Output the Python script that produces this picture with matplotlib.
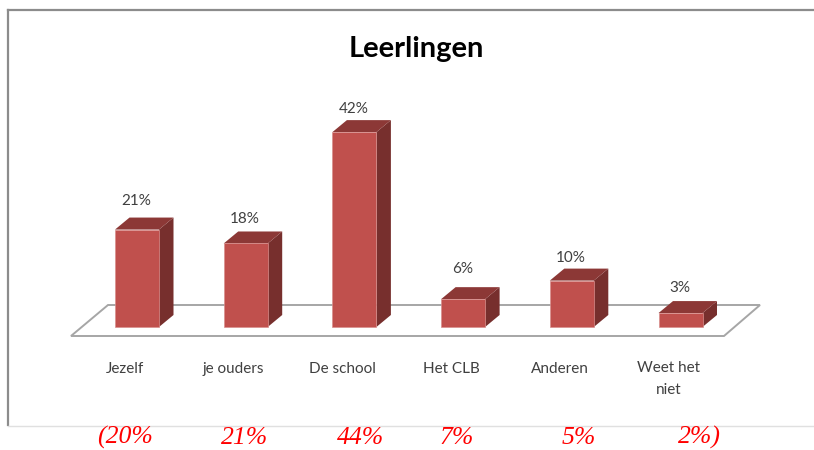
import matplotlib
matplotlib.use("Agg")
import matplotlib.pyplot as plt
from matplotlib.patches import Polygon
from matplotlib.lines import Line2D

categories = ["Jezelf", "je ouders", "De school", "Het CLB", "Anderen", "Weet het\nniet"]
values = [21, 18, 42, 6, 10, 3]
value_labels = ["21%", "18%", "42%", "6%", "10%", "3%"]
red_labels = ["(20%", "21%", "44%", "7%", "5%", "2%)"]

# layout, in pixels of the 814x450 picture
W, H = 814, 450
red_x = [125, 245, 361, 457, 579, 699]
label_gap = [29, 24, 23, 30, 23, 25]
cat_gap = [42, 42, 42, 42, 42, 52]

front = "#C0504D"
top = "#8C3836"
side = "#772F2D"
edge = "#D98F8D"
grey = "#A6A6A6"
text_col = "#404040"

fig = plt.figure(figsize=(W / 100, H / 100), dpi=100, facecolor="white")
ax = fig.add_axes([0, 0, 1, 1])
ax.axis("off")

# one category = 108.7 px, one percent = 4.64 px, first bar at px 137, zero at px 327
ax.set_xlim((0 - 137) / 108.7, (W - 137) / 108.7)
ax.set_ylim((327 - H) / 4.64, 327 / 4.64)

bar_w = 44 / 108.7
dx = 14.5 / 108.7
dy = 12 / 4.64

# floor
floor_y0 = -9 / 4.64
floor_y1 = 22 / 4.64
ax.add_patch(Polygon([[(71 - 137) / 108.7, floor_y0], [(724 - 137) / 108.7, floor_y0],
                      [(760 - 137) / 108.7, floor_y1], [(108 - 137) / 108.7, floor_y1]],
                     closed=True, fc="white", ec=grey, lw=1.4, zorder=1))

for i, v in enumerate(values):
    l = i - bar_w / 2
    r = i + bar_w / 2
    ax.add_patch(Polygon([[r, 0], [r + dx, dy], [r + dx, v + dy], [r, v]], fc=side, ec="none", zorder=2))
    ax.add_patch(Polygon([[l, v], [r, v], [r + dx, v + dy], [l + dx, v + dy]], fc=top, ec="none", zorder=2))
    ax.add_patch(Polygon([[l, 0], [r, 0], [r, v], [l, v]], fc=front, ec=edge, lw=0.5, zorder=3))
    ax.annotate(value_labels[i], (i, v), xytext=(-0.5, label_gap[i] * 0.72), textcoords="offset points",
                ha="center", va="center", fontsize=11, family="Lato", color=text_col)
    ax.annotate(categories[i], (i, 0), xytext=(-12 * 0.72, -cat_gap[i] * 0.72), textcoords="offset points",
                ha="center", va="center", fontsize=11, family="Lato", color=text_col, linespacing=1.65)

# title
fig.text(416 / W, 1 - 49 / H, "Leerlingen", ha="center", va="center", fontsize=21,
         fontweight="bold", family="Lato", color="black")

# red figures below the chart
for x, s in zip(red_x, red_labels):
    fig.text(x / W, 1 - 444 / H, s, ha="center", va="baseline", fontsize=18.5, style="italic",
             family="Liberation Serif", color="#FF0000")

# frame of the pasted chart
fig.add_artist(Line2D([8 / W, 8 / W], [1 - 425 / H, 1 - 10 / H], color="#8C8C8C", lw=1.6))
fig.add_artist(Line2D([8 / W, 1], [1 - 10 / H, 1 - 10 / H], color="#8C8C8C", lw=1.6))
fig.add_artist(Line2D([8 / W, 1], [1 - 425.5 / H, 1 - 425.5 / H], color="#E0E0E0", lw=1))

fig.savefig("out.png", dpi=100)
